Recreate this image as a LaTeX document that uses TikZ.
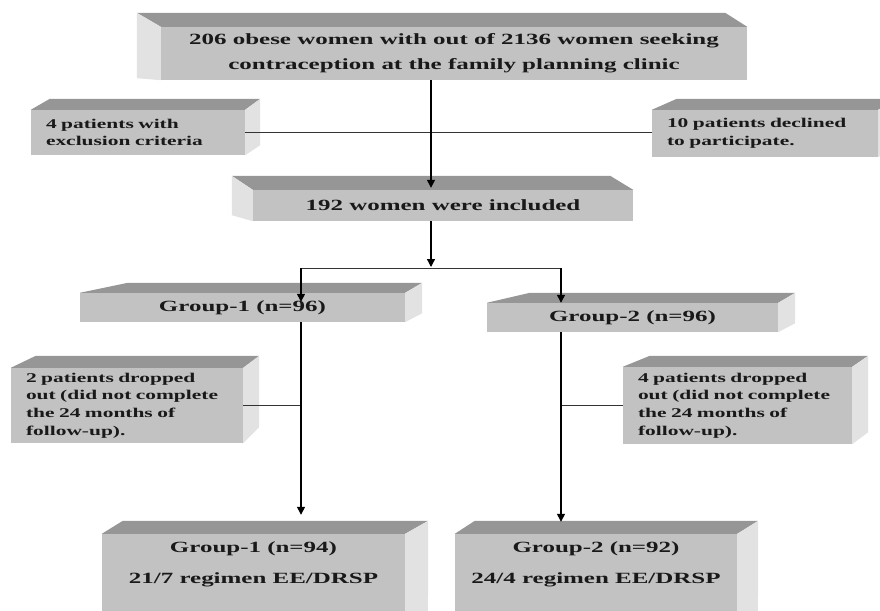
\documentclass[tikz,border=0pt]{standalone}
\usepackage{fontspec}
\setmainfont{Liberation Serif}[FakeStretch=1.6]
\usetikzlibrary{arrows.meta,calc}
\definecolor{frontgray}{RGB}{194,194,194}
\definecolor{topgray}{RGB}{150,150,150}
\definecolor{sidegray}{RGB}{226,226,226}
\tikzset{
  face/.style={fill=frontgray, inner sep=0pt, align=center, text=black!90,
    font=\bfseries\fontsize{15.6}{25}\selectfont},
  note/.style={fill=frontgray, inner xsep=15pt, inner ysep=0pt, align=left, text=black!90,
    font=\bfseries\fontsize{13.4}{17.7}\selectfont},
  topface/.style={fill=topgray},
  sideface/.style={fill=sidegray},
  arr/.style={-{Stealth[length=8pt,width=8pt,inset=0pt]}, line width=1.3pt},
  link/.style={line width=0.9pt, draw=black!80},
}
% top and side of a slab: node, back-left dx, back-right dx, depth
\newcommand{\slabtop}[4]{\fill[topface] (#1.north west) -- ++(#2,-#4) -- ($(#1.north east)+(#3,-#4)$) -- (#1.north east) -- cycle;}
% node, east/west, dx, depth at top, depth at bottom
\newcommand{\slabside}[5]{\fill[sideface] (#1.north #2) -- ++(#3,-#4) -- ($(#1.south #2)+(#3,-#5)$) -- (#1.south #2) -- cycle;}
\begin{document}
\begin{tikzpicture}[x=1pt,y=-1pt]
  \useasboundingbox (0,0) rectangle (880,610);
  \clip (0,0) rectangle (880,610);
  % front faces
  \node[face, minimum width=586, minimum height=53] (top) at (454,53.5)
    {206 obese women with out of 2136 women seeking\\contraception at the family planning clinic};
  \node[note, text width=184, minimum height=45] (excl) at (138,132.5)
    {4 patients with\\exclusion criteria};
  \node[note, text width=196, minimum height=47] (decl) at (765,133.5)
    {10 patients declined\\to participate.};
  \node[face, minimum width=380, minimum height=31] (incl) at (443,205.5) {192 women were included};
  \node[face, minimum width=325, minimum height=29] (g1) at (242.5,307.5) {Group-1 (n=96)};
  \node[face, minimum width=291, minimum height=29] (g2) at (632.5,317.5) {Group-2 (n=96)};
  \node[note, text width=202, minimum height=75] (drop1) at (127,405.5)
    {2 patients dropped\\out (did not complete\\the 24 months of\\follow-up).};
  \node[note, text width=199, minimum height=77] (drop2) at (737.5,405.5)
    {4 patients dropped\\out (did not complete\\the 24 months of\\follow-up).};
  \node[face, minimum width=303, minimum height=61] (f1) at (253.5,564.5)
    {Group-1 (n=94)\\[6pt]21/7 regimen EE/DRSP};
  \node[face, minimum width=282, minimum height=61] (f2) at (596,564.5)
    {Group-2 (n=92)\\[6pt]24/4 regimen EE/DRSP};
  \fill[frontgray] (f1.south west) rectangle ++(303,30);
  \fill[frontgray] (f2.south west) rectangle ++(282,30);
  % tops and sides
  \slabtop{top}{-24}{-22}{14}  \slabside{top}{west}{-24}{14}{2}
  \slabtop{excl}{19}{15}{11}   \slabside{excl}{east}{15}{11}{10}
  \slabtop{decl}{25}{17}{11}   \slabside{decl}{east}{17}{11}{10}
  \slabtop{incl}{-21}{-23}{14} \slabside{incl}{west}{-21}{14}{6}
  \slabtop{g1}{48}{17}{10}     \slabside{g1}{east}{17}{10}{9}
  \slabtop{g2}{43}{17}{10}     \slabside{g2}{east}{17}{10}{9}
  \slabtop{drop1}{25}{16}{12}  \slabside{drop1}{east}{16}{12}{16}
  \slabtop{drop2}{27}{16}{11}  \slabside{drop2}{east}{16}{11}{12}
  \slabtop{f1}{21}{23}{13}     \slabside{f1}{east}{23}{13}{0}
  \slabtop{f2}{20}{21}{13}     \slabside{f2}{east}{21}{13}{0}
  \fill[sidegray] (f1.south east) rectangle ++(23,30);
  \fill[sidegray] (f2.south east) rectangle ++(21,30);
  % connectors
  \coordinate (trunk) at (431,0);
  \coordinate (split) at (431,268);
  \coordinate (j1) at (301,268);
  \coordinate (j2) at (561,268);
  \draw[link] (excl.east) -- (excl.east -| decl.west);
  \draw[arr] (top.south -| trunk) -- ([yshift=2pt]incl.north -| trunk);
  \draw[arr] (incl.south -| split) -- ([yshift=1pt]split);
  \draw[link] (j1) -- (j2);
  \draw[arr] (j1) -- ([yshift=-9pt]g1.north -| j1);
  \draw[arr] (j2) -- (g2.north -| j2);
  \draw[link] (drop1.east) -- (drop1.east -| j1);
  \draw[link] (drop2.west) -- (drop2.west -| j2);
  \draw[arr] (g1.south -| j1) -- ([yshift=19pt]f1.north -| j1);
  \draw[arr] (g2.south -| j2) -- ([yshift=12pt]f2.north -| j2);
\end{tikzpicture}
\end{document}
